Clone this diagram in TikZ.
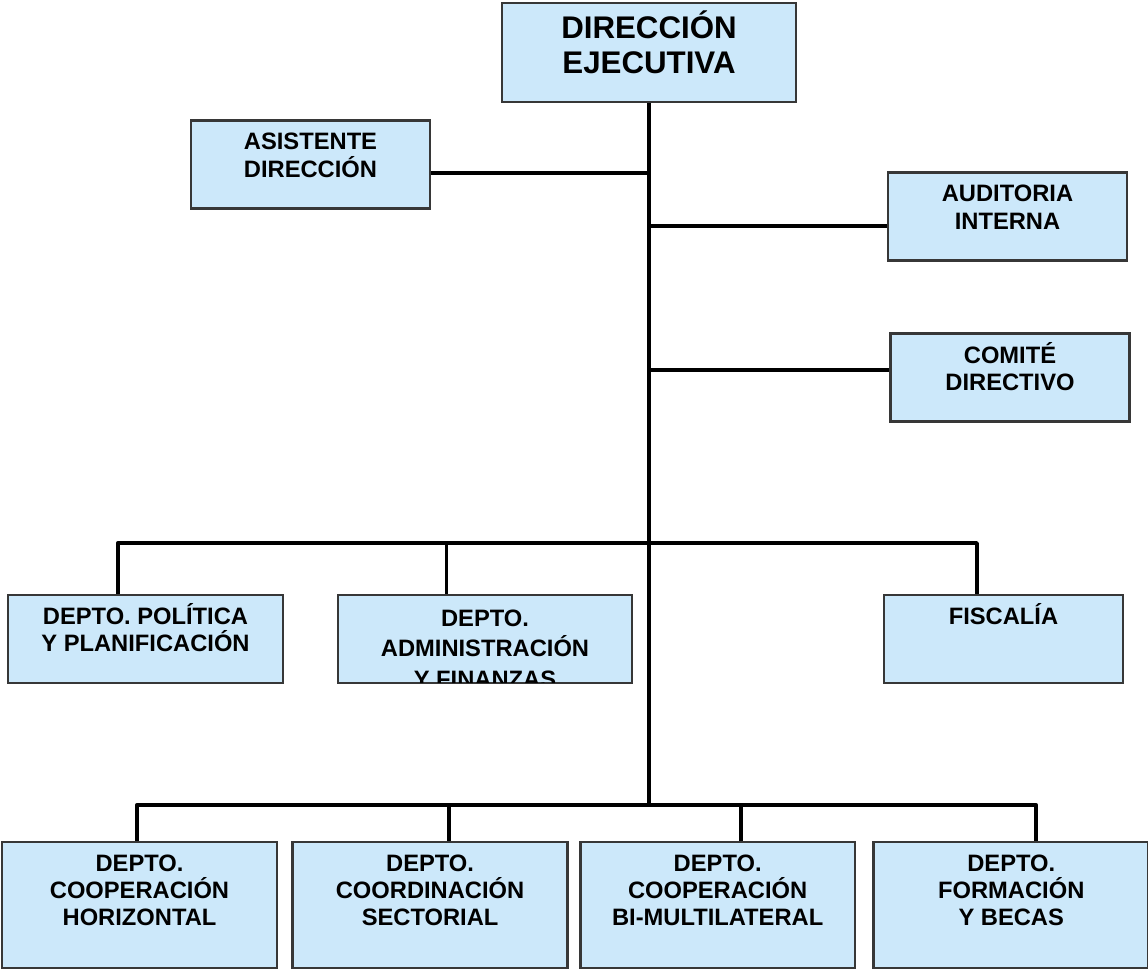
\documentclass[tikz,border=0pt]{standalone}
\usepackage{fontspec}
\setmainfont{Liberation Sans}
\usetikzlibrary{positioning}
\usetikzlibrary{calc}
\definecolor{boxfill}{RGB}{204,232,250}
\definecolor{boxline}{RGB}{55,55,55}

\begin{document}
\begin{tikzpicture}[x=0.02cm,y=-0.02cm,
    unit node/.style={rectangle,draw=boxline,fill=boxfill,line width=1.5pt,inner sep=0pt,
                      minimum width=4.78cm,minimum height=1.76cm},
    dept node/.style={unit node,minimum width=5.5cm,minimum height=2.52cm},
    tag/.style={anchor=north,align=center,inner sep=0pt,yshift=-0.27cm,
                font=\bfseries\fontsize{13.5}{15.6}\selectfont},
    link/.style={draw=black,line width=2.2pt,line join=round}]

  \useasboundingbox (0,0) rectangle (1148,971);

  % upper level
  \node[unit node,minimum width=5.88cm,minimum height=1.98cm,
        label={[tag,yshift=0.09cm,font=\bfseries\fontsize{17.8}{19.8}\selectfont]north:{DIRECCIÓN\\EJECUTIVA}}] (dir) at (649,52.5) {};
  \node[unit node,label={[tag]north:{ASISTENTE\\DIRECCIÓN}}] (asis) at (310.5,164.5) {};
  \node[unit node,label={[tag]north:{AUDITORIA\\INTERNA}}] (aud) at (1007.5,216.5) {};
  \node[unit node,label={[tag,yshift=0.08cm]north:{COMITÉ\\DIRECTIVO}}] (com) at (1010,377.5) {};

  % departments
  \node[unit node,minimum width=5.5cm,label={[tag,yshift=0.08cm]north:{DEPTO. POLÍTICA\\Y PLANIFICACIÓN}}] (pol) at (145.5,639) {};
  \node[unit node,minimum width=5.88cm] (adm) at (485,639) {};
  \begin{scope}
    \clip ([yshift=0.8pt]adm.south west) rectangle (adm.north east);
    \node[tag,yshift=-0.04cm,font=\bfseries\fontsize{13.5}{17.5}\selectfont] (admtag) at (adm.north) {DEPTO.\\ADMINISTRACIÓN\\Y FINANZAS};
  \end{scope}
  \node[unit node,label={[tag,yshift=0.08cm]north:{FISCALÍA}}] (fis) at (1003.5,639) {};

  \node[dept node,label={[tag]north:{DEPTO.\\COOPERACIÓN\\HORIZONTAL}}] (hor) at (139.5,905) {};
  \node[dept node,label={[tag]north:{DEPTO.\\COORDINACIÓN\\SECTORIAL}}] (sec) [right=0.26cm of hor] {};
  \node[dept node,label={[tag]north:{DEPTO.\\COOPERACIÓN\\BI-MULTILATERAL}}] (bim) [right=0.2cm of sec] {};
  \node[dept node,label={[tag]north:{DEPTO.\\FORMACIÓN\\Y BECAS}}] (bec) [right=0.32cm of bim] {};

  % junctions on the main line
  \coordinate (j1) at (649,173);
  \coordinate (j2) at (649,226);
  \coordinate (j3) at (649,370);
  \coordinate (b1) at (649,543);
  \coordinate (b2) at (649,805);

  \coordinate (polup) at ($(pol.north west)!.4!(pol.north east)$);
  \coordinate (admup) at ($(adm.north west)!.37!(adm.north east)$);
  \coordinate (fisup) at ($(fis.north west)!.39!(fis.north east)$);
  \coordinate (horup) at ($(hor.north west)!.49!(hor.north east)$);
  \coordinate (secup) at ($(sec.north west)!.567!(sec.north east)$);
  \coordinate (bimup) at ($(bim.north west)!.585!(bim.north east)$);
  \coordinate (becup) at ($(bec.north west)!.59!(bec.north east)$);

  \draw[link] (dir.south) -- (b2);
  \draw[link] (j1) -- (j1 -| asis.east);
  \draw[link] (j2) -- (j2 -| aud.west);
  \draw[link] (j3) -- (j3 -| com.west);

  \draw[link] (polup) |- (b1) -| (fisup);
  \draw[link] (admup) -- (admup |- b1);

  \draw[link] (horup) |- (b2) -| (becup);
  \draw[link] (secup) -- (secup |- b2);
  \draw[link] (bimup) -- (bimup |- b2);
\end{tikzpicture}
\end{document}
